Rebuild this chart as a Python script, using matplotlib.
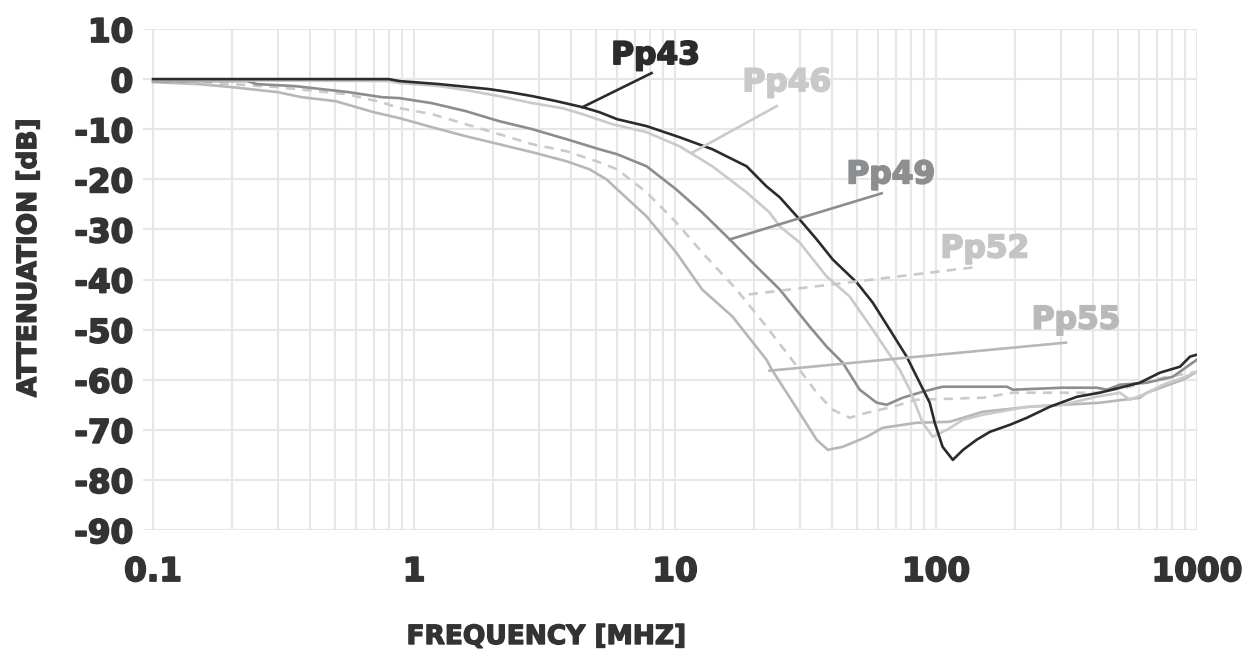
import numpy as np
import matplotlib
matplotlib.use('Agg')
import matplotlib.pyplot as plt
import matplotlib.patheffects as pe
from matplotlib.ticker import FixedLocator, NullFormatter, LogLocator

# frequency [MHz] / attenuation [dB]
f43 = [0.1, 0.8, 0.88, 1.25, 1.94, 2.32, 2.84, 3.51, 4.42, 5.13, 6.0, 7.8, 10.4, 13.9, 18.8,
       22.4, 25.2, 30, 34.9, 40.2, 49.7, 57.2, 66.5, 77.2, 86.6, 94.6, 98.9, 106, 116, 127,
       143, 161, 192, 223, 273, 347, 424, 507, 604, 721, 861, 940, 1000]
a43 = [0, 0, -0.4, -1.0, -2.0, -2.6, -3.4, -4.4, -5.6, -6.6, -8.0, -9.4, -11.6, -14.0, -17.4,
       -21.4, -23.6, -28.0, -32.0, -36.0, -40.6, -44.6, -50.0, -55.4, -60.6, -64.6, -68.6, -73.4, -76.0, -74.0,
       -72.0, -70.4, -69.0, -67.6, -65.4, -63.4, -62.6, -61.6, -60.6, -58.6, -57.4, -55.4, -55.0]

f46 = [0.1, 0.8, 0.88, 1.25, 1.58, 2.12, 2.84, 3.7, 4.42, 5.76, 7.78, 10.4, 13.9, 18.8, 23,
       25.2, 30, 38.1, 46.7, 57.2, 72.6, 79.3, 88.9, 97.2, 110, 127, 151, 223, 306, 413,
       507, 553, 621, 741, 884, 1000]
a46 = [-0.2, -0.4, -0.8, -1.4, -2.2, -3.4, -4.8, -5.8, -7.0, -9.0, -10.6, -13.4, -17.4, -22.6, -26.6,
       -29.4, -32.6, -39.4, -43.4, -50.0, -58.0, -62.0, -68.6, -71.4, -70.0, -68.0, -67.0, -65.4, -65.0, -63.4,
       -62.6, -64.0, -63.0, -61.0, -59.6, -58.4]

f49 = [0.1, 0.23, 0.25, 0.35, 0.56, 0.75, 0.88, 1.17, 1.58, 2.12, 2.84, 3.84, 5.13, 6.0, 7.78,
       10.1, 12.7, 16.2, 20.5, 25.2, 32.8, 38.1, 43.9, 51, 59.3, 64.8, 74.5, 88.9, 106, 187,
       197, 306, 413, 452, 507, 643, 809, 916, 1000]
a49 = [-0.4, -0.4, -1.0, -1.4, -2.6, -3.6, -3.8, -4.8, -6.4, -8.4, -10.0, -12.0, -14.0, -15.0, -17.4,
       -22.0, -26.6, -32.0, -37.4, -42.0, -49.4, -53.4, -56.6, -62.0, -64.6, -65.0, -63.6, -62.4, -61.4, -61.4,
       -62.0, -61.6, -61.6, -62.0, -61.0, -60.6, -59.4, -57.4, -56.0]

f52 = [0.1, 0.2, 0.3, 0.55, 0.75, 0.88, 1.17, 1.58, 2.12, 2.84, 3.84, 5.13, 6.0, 7.78, 10.1,
       12.7, 17.2, 22.4, 30, 34.9, 40.2, 46.7, 54.3, 68.3, 84.4, 151, 197, 306, 413, 553,
       741, 1000]
a52 = [-0.4, -1.0, -1.6, -3.0, -4.6, -5.8, -7.0, -9.0, -11.0, -13.0, -14.4, -16.6, -18.0, -22.6, -28.6,
       -34.6, -42.0, -49.4, -58.0, -62.6, -66.0, -67.6, -66.6, -65.4, -64.0, -63.6, -62.6, -62.6, -62.6, -61.4,
       -59.6, -58.4]

f55 = [0.1, 0.15, 0.2, 0.3, 0.37, 0.5, 0.7, 0.88, 1.17, 1.58, 2.12, 2.84, 3.84, 4.7, 5.46,
       6.0, 7.78, 10.1, 12.7, 16.6, 22.4, 23.5, 30, 34.9, 38.5, 43.9, 54.3, 62.5, 84.4, 113,
       151, 229, 424, 604, 643, 884, 1000]
a55 = [-0.6, -1.0, -1.6, -2.6, -3.6, -4.4, -6.6, -7.8, -9.6, -11.4, -13.0, -14.6, -16.4, -18.0, -20.0,
       -22.0, -27.4, -34.6, -42.0, -47.4, -56.0, -58.0, -66.6, -72.0, -74.0, -73.4, -71.4, -69.6, -68.6, -68.4,
       -66.4, -65.4, -64.6, -63.6, -62.6, -60.0, -58.4]

names = ['Pp43', 'Pp46', 'Pp49', 'Pp52', 'Pp55']
x_ticks = [0.1, 1, 10, 100, 1000]
x_ticklabels = ['0.1', '1', '10', '100', '1000']
y_ticks = list(range(-90, 11, 10))

plt.rcParams['font.family'] = ['DejaVu Sans']
plt.rcParams['font.weight'] = 'bold'

fig = plt.figure(figsize=(12.48, 6.53), dpi=100)
ax = fig.add_axes([143 / 1248, 123 / 653, 1054 / 1248, 501 / 653])

cols = {'Pp43': '#2b2b2b', 'Pp46': '#c9cacc', 'Pp49': '#8c8d8f', 'Pp52': '#c9cacc', 'Pp55': '#b6b7b9'}
txtcols = {'Pp43': '#2b2b2b', 'Pp46': '#c8c9cb', 'Pp49': '#8d8e90', 'Pp52': '#c4c5c7', 'Pp55': '#b8b9bb'}
dash = (0, (3.5, 2.8))

ax.plot(f55, a55, color=cols['Pp55'], lw=1.9, zorder=3)
ax.plot(f52, a52, color=cols['Pp52'], lw=1.9, ls=dash, zorder=3)
ax.plot(f49, a49, color=cols['Pp49'], lw=1.9, zorder=3)
ax.plot(f46, a46, color=cols['Pp46'], lw=1.9, zorder=3)
ax.plot(f43, a43, color=cols['Pp43'], lw=1.9, zorder=4)

# labels + leader lines
lab_pos = {'Pp43': (8.42, 3.0), 'Pp46': (26.8, -2.4), 'Pp49': (67.1, -20.8),
           'Pp52': (153.8, -35.6), 'Pp55': (343.6, -49.8)}
leaders = {'Pp43': ((8.13, 1.2), (4.42, -5.6)), 'Pp46': ((24.5, -5.4), (11.7, -14.6)),
           'Pp49': ((61.9, -22.8), (16.2, -32.0)), 'Pp52': ((138, -37.6), (17.7, -43.2)),
           'Pp55': ((315, -52.6), (23.0, -58.2))}
for n in names:
    (x1, y1), (x2, y2) = leaders[n]
    ax.plot([x1, x2], [y1, y2], color=cols[n], lw=1.9, ls=dash if n == 'Pp52' else '-', zorder=5)
    ax.text(lab_pos[n][0], lab_pos[n][1], n, color=txtcols[n], fontsize=22.5,
            fontweight='bold', ha='center', va='baseline', zorder=6,
            path_effects=[pe.withStroke(linewidth=1.3, foreground=txtcols[n])])

ax.set_xscale('log')
ax.set_xlim(0.0915, 1000)
ax.set_ylim(-90, 10)
ax.xaxis.set_major_locator(FixedLocator(x_ticks))
ax.set_xticklabels(x_ticklabels)
ax.xaxis.set_minor_locator(LogLocator(base=10, subs=np.arange(2, 10)))
ax.xaxis.set_minor_formatter(NullFormatter())
ax.set_yticks(y_ticks)
ax.set_yticklabels([str(v) for v in y_ticks])

ax.grid(True, which='both', axis='x', color='#e6e7e8', lw=1.5, zorder=0)
ax.grid(True, which='major', axis='y', color='#e6e7e8', lw=1.5, zorder=0)
ax.set_axisbelow(True)
for s in ax.spines.values():
    s.set_visible(False)
ax.tick_params(axis='both', which='both', length=0, labelcolor='#333333', labelsize=23.5)
ax.tick_params(axis='y', pad=7)
ax.tick_params(axis='x', pad=18)
for t in ax.get_xticklabels() + ax.get_yticklabels():
    t.set_path_effects([pe.withStroke(linewidth=1.3, foreground='#333333')])

stroke = [pe.withStroke(linewidth=1.0, foreground='#333333')]
fig.text(546 / 1248, 1 - 637 / 653, 'FREQUENCY [MHZ]', ha='center', va='center',
         fontsize=19, fontweight='bold', color='#333333', path_effects=stroke)
fig.text(29 / 1248, 1 - 258 / 653, 'ATTENUATION [dB]', ha='center', va='center', rotation=90,
         fontsize=19, fontweight='bold', color='#333333', path_effects=stroke)

fig.savefig('out.png', dpi=100)
